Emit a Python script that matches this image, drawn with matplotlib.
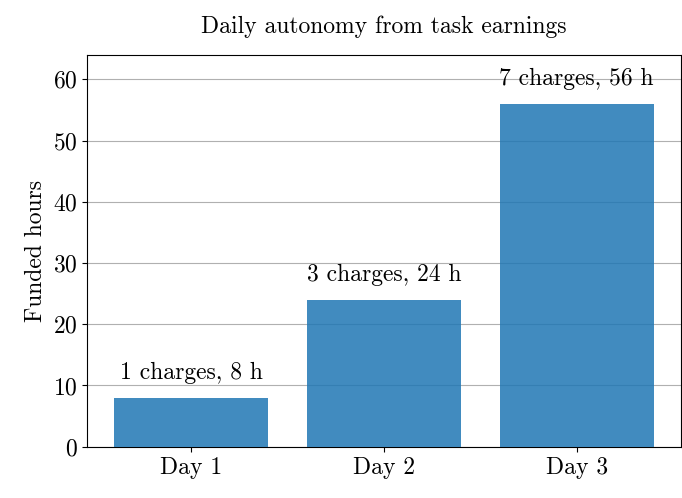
import matplotlib
matplotlib.use("Agg")
import matplotlib.pyplot as plt

days = ["Day 1", "Day 2", "Day 3"]
hours = [8, 24, 56]
charges = [1, 3, 7]

plt.rcParams['font.family'] = ['cmr10', 'DejaVu Serif']
plt.rcParams['mathtext.fontset'] = 'cm'
plt.rcParams['axes.formatter.use_mathtext'] = True
plt.rcParams['font.size'] = 17

fig = plt.figure(figsize=(6.82, 4.98), dpi=100)
ax = fig.add_axes([0.128, 0.103, 0.87, 0.787])
bars = ax.bar(days, hours, color="#1f77b4", alpha=0.85, width=0.8, zorder=3)
for i, (h, c) in enumerate(zip(hours, charges)):
    ax.text(i, h + 2.3, f"{c} charges, {h} h", ha="center", va="bottom", fontsize=17)
ax.set_ylim(0, 64)
ax.set_yticks(range(0, 61, 10))
ax.yaxis.grid(True, color="#b0b0b0", linewidth=0.8, zorder=0)
ax.set_axisbelow(True)
ax.set_ylabel("Funded hours")
ax.set_title("Daily autonomy from task earnings", pad=16, fontsize=17)
fig.savefig("out.png", dpi=100)
